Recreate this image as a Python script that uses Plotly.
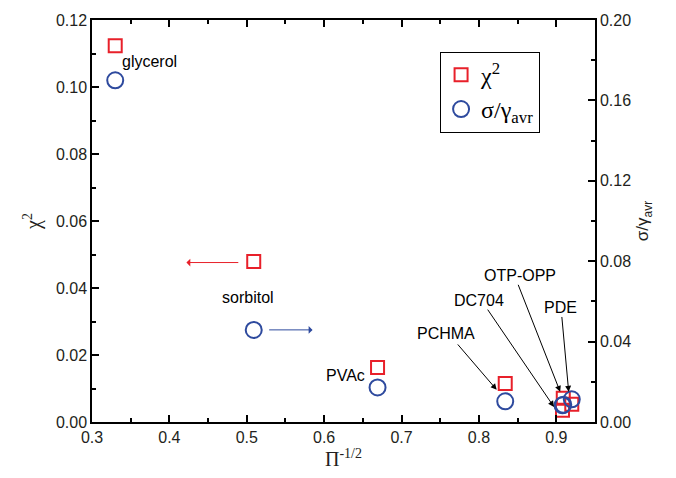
import plotly.graph_objects as go

# ---- data ----
materials = ["glycerol", "sorbitol", "PVAc", "PCHMA", "DC704", "OTP-OPP", "PDE"]
pi_inv_sqrt = [0.330, 0.509, 0.669, 0.834, 0.908, 0.909, 0.920]
chi2 = [0.1123, 0.0479, 0.0163, 0.0115, 0.0035, 0.0071, 0.0053]
sigma_gamma = [0.170, 0.0458, 0.0172, 0.0103, 0.0083, 0.0086, 0.0113]

x_ticks = [0.3, 0.4, 0.5, 0.6, 0.7, 0.8, 0.9]
y1_ticks = [0.00, 0.02, 0.04, 0.06, 0.08, 0.10, 0.12]
y2_ticks = [0.00, 0.04, 0.08, 0.12, 0.16, 0.20]

# label positions (data coords) and arrows (tail -> head)
plain_labels = [("glycerol", 0.374, 0.1076), ("sorbitol", 0.501, 0.0372), ("PVAc", 0.627, 0.0139)]
arrow_labels = [
    ("PCHMA", 0.758, 0.0263, 0.771, 0.0236, 0.823, 0.0096),
    ("DC704", 0.800, 0.0364, 0.810, 0.0340, 0.897, 0.0045),
    ("OTP-OPP", 0.853, 0.0437, 0.850, 0.0414, 0.905, 0.0090),
    ("PDE", 0.905, 0.0343, 0.907, 0.0318, 0.916, 0.0090),
]

RED = "#e8202a"
BLUE = "#2e4a9e"
TXT = "#231f20"
FONT = "Liberation Sans, Arial, sans-serif"
SERIF = "Liberation Serif, Times New Roman, serif"

fig = go.Figure()
fig.add_trace(go.Scatter(
    x=pi_inv_sqrt, y=chi2, mode="markers", name="χ<sup>2</sup>",
    marker=dict(symbol="square-open", size=13, color=RED, line=dict(width=2, color=RED)),
    yaxis="y",
))
fig.add_trace(go.Scatter(
    x=pi_inv_sqrt, y=sigma_gamma, mode="markers", name="σ/γ<sub>avr</sub>",
    marker=dict(symbol="circle-open", size=16, color=BLUE, line=dict(width=2, color=BLUE)),
    yaxis="y2",
))

annotations = []
for txt, x, y in plain_labels:
    annotations.append(dict(x=x, y=y, xref="x", yref="y", text=txt, showarrow=False,
                            font=dict(size=16, color="black", family=FONT)))
for txt, lx, ly, tx, ty, hx, hy in arrow_labels:
    annotations.append(dict(x=lx, y=ly, xref="x", yref="y", text=txt, showarrow=False,
                            font=dict(size=16, color="black", family=FONT)))
    annotations.append(dict(x=hx, y=hy, ax=tx, ay=ty, xref="x", yref="y", axref="x", ayref="y",
                            text="", showarrow=True, arrowhead=2, arrowsize=1.2, arrowwidth=1,
                            arrowcolor="black"))
# direction arrows
annotations.append(dict(x=0.422, y=0.0476, ax=0.491, ay=0.0476, xref="x", yref="y", axref="x", ayref="y",
                        text="", showarrow=True, arrowhead=1, arrowsize=1.3, arrowwidth=1, arrowcolor=RED))
annotations.append(dict(x=0.585, y=0.0275, ax=0.527, ay=0.0275, xref="x", yref="y", axref="x", ayref="y",
                        text="", showarrow=True, arrowhead=1, arrowsize=1.3, arrowwidth=1, arrowcolor=BLUE))

axis_common = dict(showgrid=False, zeroline=False, showline=True, linecolor="black", linewidth=1.5,
                   ticks="inside", tickcolor="black", tickwidth=1.5, ticklen=7,
                   tickfont=dict(size=16, color=TXT, family=FONT))

fig.update_layout(
    width=676, height=478,
    margin=dict(l=92, r=81, t=16, b=56),
    paper_bgcolor="white", plot_bgcolor="white",
    showlegend=True,
    legend=dict(x=0.692, y=0.921, xanchor="left", yanchor="top",
                bordercolor="black", borderwidth=1, bgcolor="white",
                font=dict(size=24, color="black", family=SERIF),
                itemwidth=30),
    xaxis=dict(range=[0.3, 0.95], tickvals=x_ticks, ticktext=[f"{v:.1f}" for v in x_ticks],
               mirror="ticks",
               minor=dict(dtick=0.05, tick0=0.3, ticks="inside", ticklen=4, tickcolor="black", tickwidth=1.5),
               title=dict(text="Π<sup>-1/2</sup>", font=dict(size=20, color=TXT, family=SERIF),
                          standoff=6),
               **axis_common),
    yaxis=dict(range=[0, 0.12], tickvals=y1_ticks, ticktext=[f"{v:.2f}" for v in y1_ticks],
               minor=dict(dtick=0.01, tick0=0, ticks="inside", ticklen=4, tickcolor="black", tickwidth=1.5),
               title=dict(text="χ<sup>2</sup>", font=dict(size=20, color=TXT, family=SERIF),
                          standoff=10),
               **axis_common),
    yaxis2=dict(range=[0, 0.20], tickvals=y2_ticks, ticktext=[f"{v:.2f}" for v in y2_ticks],
                overlaying="y", side="right",
                minor=dict(dtick=0.02, tick0=0, ticks="inside", ticklen=4, tickcolor="black", tickwidth=1.5),
                title=dict(text="σ/γ<sub>avr</sub>", font=dict(size=17, color=TXT, family=FONT),
                           standoff=6),
                **axis_common),
    annotations=annotations,
)

fig.write_html("out.html")
